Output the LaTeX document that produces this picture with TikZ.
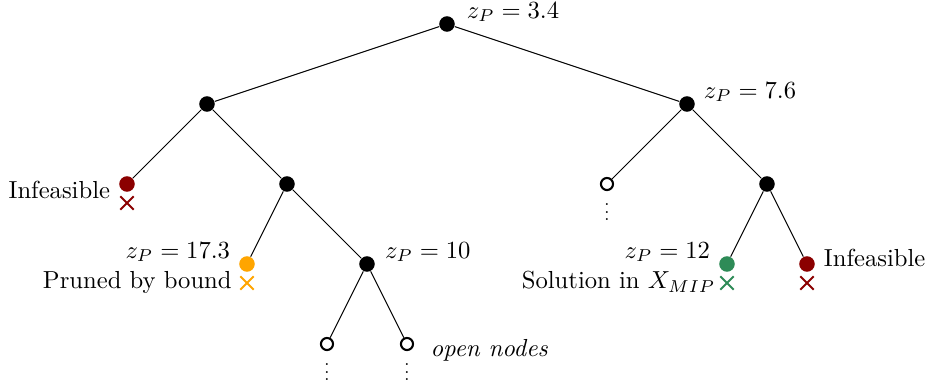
\documentclass[tikz,border=0pt]{standalone}
\usetikzlibrary{shapes.misc}

\definecolor{infred}{RGB}{139,0,0}
\definecolor{prunedorange}{RGB}{255,165,0}
\definecolor{solgreen}{RGB}{46,139,87}

\tikzset{
  bnode/.style={circle, fill=black, inner sep=0pt, minimum size=6.3pt},
  onode/.style={circle, draw=black, line width=0.85pt, fill=white, inner sep=0pt, minimum size=4.9pt},
  xmark/.style={cross out, draw=#1, line width=0.8pt, inner sep=0pt, minimum size=4.6pt},
  moredots/.style={scale=0.75, inner sep=0pt, anchor=north},
}

\begin{document}
\begin{tikzpicture}[x=32.48pt, y=32.48pt]
    \useasboundingbox (-5.5875,0.3) rectangle (6.0,-4.525);

    \node[bnode] (root) at (0,0) {};

    \node[bnode] (L) at (-3,-1) {};
    \node[bnode] (R) at (3,-1) {};

    \node[bnode, fill=infred] (LL) at (-4,-2) {};
    \node[bnode] (LR) at (-2,-2) {};
    \node[onode] (RL) at (2,-2) {};
    \node[bnode] (RR) at (4,-2) {};

    \node[bnode, fill=prunedorange] (LRL) at (-2.5,-3) {};
    \node[bnode] (LRR) at (-1,-3) {};
    \node[bnode, fill=solgreen] (RRL) at (3.5,-3) {};
    \node[bnode, fill=infred] (RRR) at (4.5,-3) {};

    \node[onode] (LRRL) at (-1.5,-4) {};
    \node[onode] (LRRR) at (-0.5,-4) {};

    \draw (root) -- (L);
    \draw (root) -- (R);
    \draw (L) -- (LL);
    \draw (L) -- (LR);
    \draw (LR) -- (LRL);
    \draw (LR) -- (LRR);
    \draw (LRR) -- (LRRL);
    \draw (LRR) -- (LRRR);
    \draw (R) -- (RL);
    \draw (R) -- (RR);
    \draw (RR) -- (RRL);
    \draw (RR) -- (RRR);

    \node[xmark=infred] (xLL) at ([yshift=-7.7pt]LL.center) {};
    \node[xmark=prunedorange] (xLRL) at ([yshift=-7.7pt]LRL.center) {};
    \node[xmark=solgreen] (xRRL) at ([yshift=-7.7pt]RRL.center) {};
    \node[xmark=infred] (xRRR) at ([yshift=-7.7pt]RRR.center) {};

    \node[moredots] (dRL) at ([yshift=-0.6pt]RL.south) {$\vdots$};
    \node[moredots] (dLRRL) at ([yshift=-0.6pt]LRRL.south) {$\vdots$};
    \node[moredots] (dLRRR) at ([yshift=-0.6pt]LRRR.south) {$\vdots$};

    \node[anchor=base west] (zroot) at ([xshift=1.2pt,yshift=2.4pt]root.east) {$z_P = 3.4$};
    \node[anchor=base west] (zR) at ([xshift=0pt,yshift=2.4pt]R.east) {$z_P = 7.6$};
    \node[anchor=base west] (zLRR) at ([xshift=0.5pt,yshift=2.4pt]LRR.east) {$z_P = 10$};
    \node[anchor=base east] (zLRL) at ([yshift=2.4pt]LRL.west) {$z_P = 17.3$};
    \node[anchor=base east] (zRRL) at ([yshift=2.4pt]RRL.west) {$z_P = 12$};

    \node[anchor=base east] (tLL) at ([yshift=-5.7pt]LL.west) {Infeasible};
    \node[anchor=base west] (tRRR) at ([yshift=-1pt]RRR.east) {Infeasible};
    \node[anchor=base east] (tLRL) at ([yshift=-2.4pt]xLRL.west) {Pruned by bound};
    \node[anchor=base east] (tRRL) at ([xshift=1.5pt,yshift=-2.4pt]xRRL.west) {Solution in $X_{MIP}$};
    \node[anchor=base west] (tLRRR) at ([xshift=3.2pt,yshift=-4.9pt]LRRR.east) {\textit{open nodes}};
\end{tikzpicture}
\end{document}
